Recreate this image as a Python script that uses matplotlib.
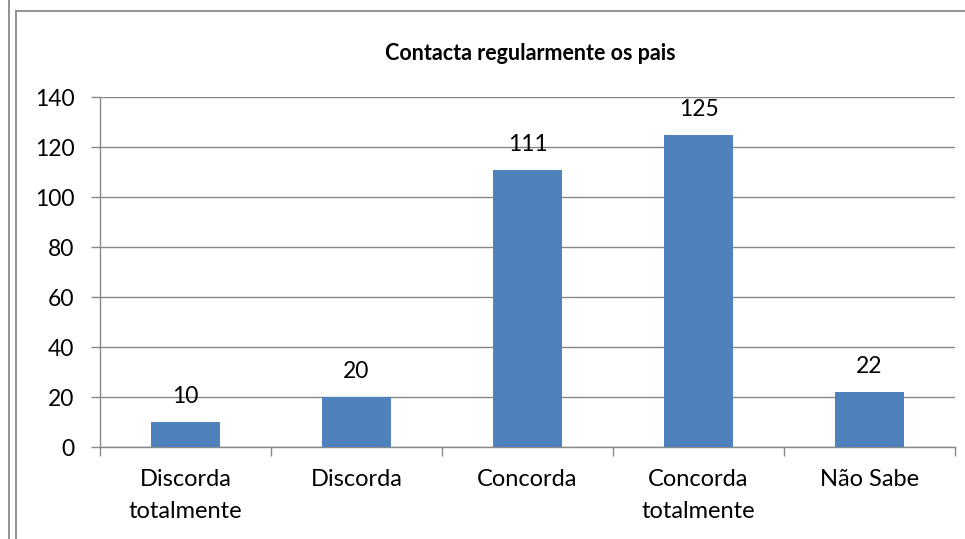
import matplotlib
matplotlib.use("Agg")
import matplotlib.pyplot as plt
from matplotlib.lines import Line2D

plt.rcParams['font.family'] = ['Lato', 'DejaVu Sans']

# dados
categorias = ["Discorda\ntotalmente", "Discorda", "Concorda", "Concorda\ntotalmente", "Não Sabe"]
valores = [10, 20, 111, 125, 22]
titulo = "Contacta regularmente os pais"
y_ticks = [0, 20, 40, 60, 80, 100, 120, 140]

W, H = 965, 539
fig = plt.figure(figsize=(W / 100, H / 100), dpi=100)

cinza = "#898989"
# moldura do grafico
fig.add_artist(Line2D([9 / W, 9 / W], [0, 1], color=cinza, lw=1.3))
fig.add_artist(Line2D([16 / W, 16 / W], [0, 1 - 11 / H], color=cinza, lw=1.3))
fig.add_artist(Line2D([16 / W, 1], [1 - 11 / H, 1 - 11 / H], color=cinza, lw=1.3))

ax = fig.add_axes([100 / W, (H - 447) / H, 855 / W, 350 / H])
x = list(range(len(categorias)))
ax.bar(x, valores, width=0.4, color="#4F81BD", zorder=3)

for xi, v in zip(x, valores):
    ax.annotate(str(v), (xi, v), xytext=(0, 13.5), textcoords="offset points",
                ha="center", va="baseline", fontsize=16.5, zorder=4)

ax.set_xlim(-0.5, len(categorias) - 0.5)
ax.set_ylim(0, 140)
ax.set_yticks(y_ticks)
ax.yaxis.grid(True, color="#878787", lw=1.0, zorder=0)
ax.set_axisbelow(True)

ax.set_xticks(x)
ax.set_xticklabels(categorias, fontsize=17, linespacing=1.65)
ax.set_xticks([i - 0.5 for i in range(len(categorias) + 1)], minor=True)
ax.tick_params(axis="x", which="major", length=0, pad=16)
ax.tick_params(axis="x", which="minor", length=6.5, color=cinza, width=1)
ax.tick_params(axis="y", length=6.5, color=cinza, width=1, pad=12, labelsize=16.5)

for s in ["top", "right"]:
    ax.spines[s].set_visible(False)
for s in ["left", "bottom"]:
    ax.spines[s].set_color(cinza)
    ax.spines[s].set_linewidth(1.0)

fig.text(530 / W, 1 - 60 / H, titulo, ha="center", va="baseline",
         fontsize=15.5, fontweight="bold")

fig.savefig("out.png", dpi=100)
